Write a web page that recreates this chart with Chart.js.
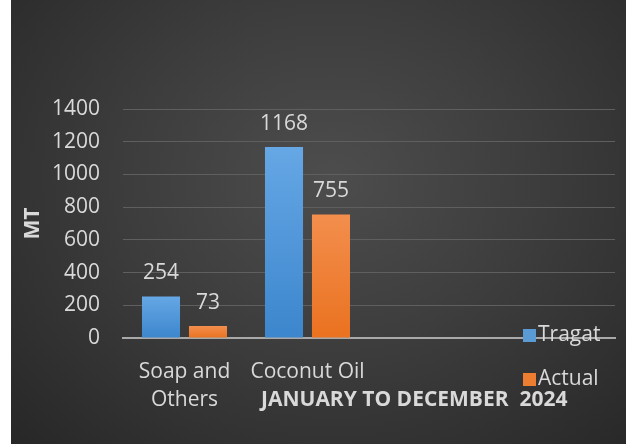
<!DOCTYPE html>
<html>
<head>
<meta charset="utf-8">
<script src="https://cdn.jsdelivr.net/npm/chart.js@4.4.1/dist/chart.umd.min.js"></script>
<style>
  html, body { margin: 0; padding: 0; background: #ffffff; }
  #wrap { position: relative; width: 644px; height: 445px; }
  #bg { position: absolute; left: 11px; top: 0; width: 615px; height: 444px;
        background: radial-gradient(ellipse at 52% 40%, #4d4d4d 0%, #3d3d3d 45%, #272727 100%); }
  #c { position: absolute; left: 0; top: 0; }
</style>
</head>
<body>
<div id="wrap">
  <div id="bg"></div>
  <canvas id="c" width="644" height="445"></canvas>
</div>
<script>
const categories = [['Soap and', 'Others'], 'Coconut Oil', '', ''];
const seriesNames = ['Tragat', 'Actual'];
const tragatValues = [254, 1168, null, null];
const actualValues = [73, 755, null, null];
const yTicks = [0, 200, 400, 600, 800, 1000, 1200, 1400];
const yTitle = 'MT';
const xTitle = 'JANUARY TO DECEMBER  2024';

const FONT = "'Open Sans', 'DejaVu Sans', sans-serif";
const TXT = '#d9d9d9';

function barGradient(top, bottom) {
  return function (ctx) {
    const chart = ctx.chart;
    const ys = chart.scales && chart.scales.y;
    if (!chart.chartArea || !ys || ctx.raw == null) return top;
    const y0 = ys.getPixelForValue(ctx.raw);
    const y1 = ys.getPixelForValue(0);
    const g = chart.ctx.createLinearGradient(0, y0, 0, y1);
    g.addColorStop(0, top);
    g.addColorStop(1, bottom);
    return g;
  };
}

const solidColors = ['#5b9bd5', '#ed7d31'];

const overlayPlugin = {
  id: 'overlay',
  afterDatasetsDraw(chart) {
    const c = chart.ctx;
    c.save();
    // data labels
    c.font = '21px ' + FONT;
    c.fillStyle = TXT;
    c.textAlign = 'center';
    c.textBaseline = 'middle';
    chart.data.datasets.forEach((ds, di) => {
      const meta = chart.getDatasetMeta(di);
      meta.data.forEach((el, i) => {
        const v = ds.data[i];
        if (v == null) return;
        c.fillText(String(v), el.x, el.y - 23);
      });
    });
    // x-axis title
    const ca = chart.chartArea;
    c.font = 'bold 21px ' + FONT;
    c.fillText(xTitle, ca.left + (ca.right - ca.left) * 0.592, ca.bottom + 62);
    // legend
    c.font = '21px ' + FONT;
    c.textAlign = 'left';
    const lx = ca.right - 92;
    const lys = [ca.bottom - 3, ca.bottom + 41];
    seriesNames.forEach((name, i) => {
      c.fillStyle = solidColors[i];
      c.fillRect(lx, lys[i] - 6, 13, 13);
      c.fillStyle = TXT;
      c.fillText(name, lx + 15, lys[i]);
    });
    c.restore();
  }
};

new Chart(document.getElementById('c'), {
  type: 'bar',
  data: {
    labels: categories,
    datasets: [
      { label: seriesNames[0], data: tragatValues,
        backgroundColor: barGradient('#66a7e5', '#3c86cd'),
        categoryPercentage: 0.764, barPercentage: 0.81 },
      { label: seriesNames[1], data: actualValues,
        backgroundColor: barGradient('#f38e4d', '#ea7220'),
        categoryPercentage: 0.764, barPercentage: 0.81 }
    ]
  },
  options: {
    responsive: false,
    animation: false,
    devicePixelRatio: 1,
    layout: { padding: { top: 109, right: 29, left: 0, bottom: 0 } },
    plugins: {
      legend: { display: false },
      tooltip: { enabled: false }
    },
    scales: {
      x: {
        grid: { display: false, drawTicks: false },
        border: { display: true, color: '#a9a9a9', width: 2 },
        ticks: { color: TXT, padding: 20, font: { family: FONT, size: 21, lineHeight: 1.33 }, maxRotation: 0, autoSkip: false },
        afterFit(scale) { scale.height = 107; }
      },
      y: {
        min: 0, max: 1400,
        afterBuildTicks(scale) { scale.ticks = yTicks.map(v => ({ value: v })); },
        grid: {
          drawTicks: false,
          color: (ctx) => (ctx.tick && ctx.tick.value === 0) ? 'rgba(0,0,0,0)' : '#5f5f5f',
          lineWidth: 1
        },
        border: { display: false },
        ticks: { color: TXT, padding: 23, font: { family: FONT, size: 21 },
                 callback: (v) => String(v) },
        title: { display: true, text: yTitle, color: TXT, padding: { top: 20, bottom: 0 },
                 font: { family: FONT, size: 21, weight: 'bold' } },
        afterFit(scale) { scale.width = 123; }
      }
    }
  },
  plugins: [overlayPlugin]
});
</script>
</body>
</html>
